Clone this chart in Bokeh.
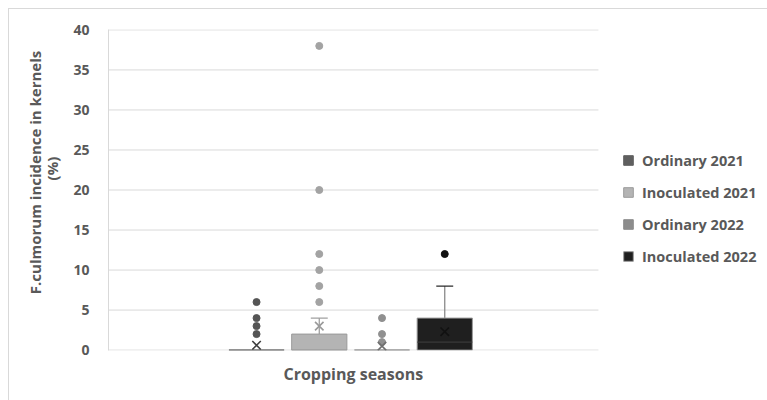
from bokeh.plotting import figure
from bokeh.models import Legend, LegendItem, Range1d, FixedTicker, Title
from bokeh.embed import file_html
from bokeh.resources import INLINE

# ---- data ----
series = ["Ordinary 2021", "Inoculated 2021", "Ordinary 2022", "Inoculated 2022"]
q1 = [0, 0, 0, 0]
median = [0, 0, 0, 1]
q3 = [0, 2, 0, 4]
whisker_low = [0, 0, 0, 0]
whisker_high = [0, 4, 0, 8]
means = [0.6, 3.0, 0.5, 2.3]
outliers = [
    [2, 3, 4, 6],
    [6, 8, 10, 12, 20, 38],
    [1, 2, 4],
    [12],
]
y_ticks = [0, 5, 10, 15, 20, 25, 30, 35, 40]
y_title = ["F.culmorum incidence in kernels", "(%)"]
x_title = "Cropping seasons"

# ---- styles ----
box_colors = ["#5f5f5f", "#b4b4b4", "#8c8c8c", "#1f1f1f"]
out_colors = ["#555555", "#a3a3a3", "#909090", "#111111"]
mean_colors = ["#404040", "#9a9a9a", "#707070", "#111111"]
whisk_colors = ["#5f5f5f", "#a0a0a0", "#8c8c8c", "#8a8a8a"]
cap_colors = ["#5f5f5f", "#a0a0a0", "#8c8c8c", "#2a2a2a"]
text_color = "#595959"
font = "Open Sans"

xs = list(range(len(series)))
box_w = 0.88
cap_w = 0.27
plot_x_start, plot_x_end = -2.36, 5.45   # visible plot area (gridlines)
frame_x_end = 8.145                      # frame extends under the legend
y_lo, y_hi = -0.05, 40.05

p = figure(width=767, height=400, output_backend="svg", toolbar_location=None,
           x_range=Range1d(plot_x_start, frame_x_end), y_range=Range1d(y_lo, y_hi),
           min_border_left=108, min_border_right=0, min_border_top=29, min_border_bottom=50,
           background_fill_color=None, border_fill_color=None,
           styles={"box-shadow": "inset 8px 8px 0 0 white, inset 9px 9px 0 0 #d9d9d9",
                   "background-color": "white"})
p.outline_line_color = None
p.xaxis.visible = False

p.yaxis.ticker = FixedTicker(ticks=y_ticks)
p.yaxis.major_tick_line_color = None
p.yaxis.minor_tick_line_color = None
p.yaxis.axis_line_color = "#d9d9d9"
p.yaxis.major_label_text_font = font
p.yaxis.major_label_text_font_style = "bold"
p.yaxis.major_label_text_font_size = "14px"
p.yaxis.major_label_text_color = text_color
p.yaxis.major_label_standoff = 13
# nbsp padding shifts the centred title upward, as in the reference
pad1 = "\u00a0" * 9
pad2 = "\u00a0" * 11
p.yaxis.axis_label = pad1 + y_title[0] + "\n" + pad2 + y_title[1]
p.yaxis.axis_label_text_font = font
p.yaxis.axis_label_text_font_style = "bold"
p.yaxis.axis_label_text_font_size = "15px"
p.yaxis.axis_label_text_color = text_color
p.yaxis.axis_label_text_line_height = 0.85
p.yaxis.axis_label_standoff = 8

p.xgrid.grid_line_color = None
p.ygrid.grid_line_color = None
p.segment(x0=[plot_x_start] * len(y_ticks), y0=y_ticks, x1=[plot_x_end] * len(y_ticks), y1=y_ticks,
          line_color="#d9d9d9", line_width=1)

p.add_layout(Title(text=x_title, align="left", offset=175, standoff=20,
                   text_font=font, text_font_style="bold", text_font_size="16px",
                   text_color=text_color), "below")

items = []
for i, name in enumerate(series):
    x = xs[i]
    if whisker_high[i] > q3[i]:
        p.segment(x0=[x], y0=[q3[i]], x1=[x], y1=[whisker_high[i]], line_color=whisk_colors[i], line_width=1.3)
        p.segment(x0=[x - cap_w / 2], y0=[whisker_high[i]], x1=[x + cap_w / 2], y1=[whisker_high[i]],
                  line_color=cap_colors[i], line_width=1.3)
    r = p.vbar(x=[x], bottom=[q1[i]], top=[q3[i]], width=box_w, fill_color=box_colors[i],
               line_color=box_colors[i] if q3[i] == q1[i] else "#9a9a9a", line_width=1)
    items.append(LegendItem(label=name, renderers=[r]))
    if q3[i] > q1[i]:
        p.segment(x0=[x - box_w / 2], y0=[median[i]], x1=[x + box_w / 2], y1=[median[i]],
                  line_color="#404040" if i == 3 else "#9a9a9a", line_width=1)
    p.scatter(x=[x] * len(outliers[i]), y=outliers[i], size=7, marker="circle",
              fill_color=out_colors[i], line_color=out_colors[i])
    p.scatter(x=[x], y=[means[i]], marker="x", size=12, line_color=mean_colors[i], line_width=1.6)

legend = Legend(items=items, location=(514, 84), border_line_color=None,
                background_fill_alpha=0, padding=0, margin=0,
                label_text_font=font, label_text_font_style="bold", label_text_font_size="14.5px",
                label_text_color=text_color, glyph_width=12, glyph_height=12,
                label_height=20, spacing=12, label_standoff=8)
p.add_layout(legend, "center")

open("out.html", "w").write(file_html(p, INLINE))
